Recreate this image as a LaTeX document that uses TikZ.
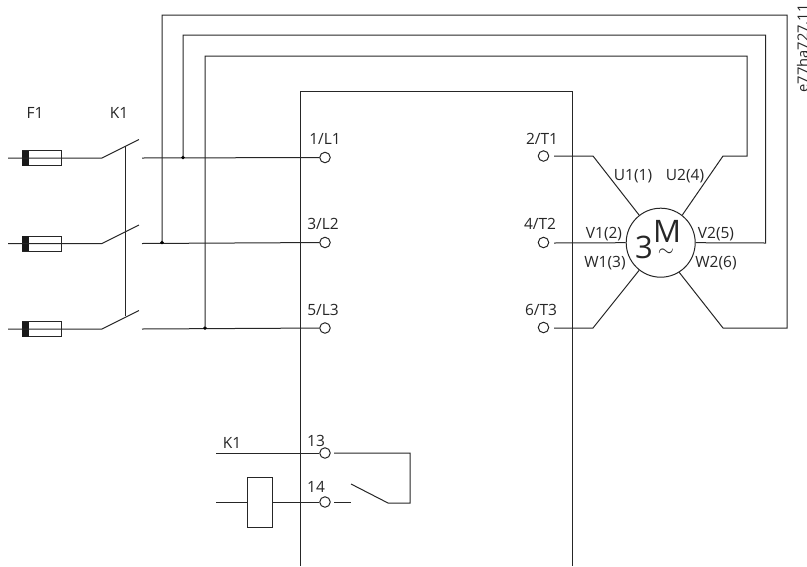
\documentclass[tikz,border=0pt]{standalone}
\usepackage{fontspec}
\setmainfont{Open Sans}
\begin{document}
\begin{tikzpicture}[x=1pt,y=-1pt,line cap=butt,
  wire/.style={draw=black!85,line width=1pt},
  term/.style={circle,draw=black!85,line width=1pt,fill=white,minimum size=10.5pt,inner sep=0pt},
  dot/.style={circle,fill=black,draw=black,line width=0.4pt,minimum size=3pt,inner sep=0pt},
  lab/.style={font=\fontsize{15.5}{17}\selectfont,inner sep=0pt,text=black!85},
  wlab/.style={font=\fontsize{15.5}{17}\selectfont,inner sep=0pt,text=black!85},
  big/.style={font=\fontsize{31}{33}\selectfont,inner sep=0pt,text=black!85},
  fusebody/.style={draw=black!85,line width=1pt,fill=none,minimum width=39pt,minimum height=15pt,inner sep=0pt}]
\useasboundingbox (0,0) rectangle (807,566);
\begin{scope}
\clip (0,0) rectangle (807,566);
\node[rotate=90,font=\fontsize{14.7}{17}\selectfont,inner sep=0pt,text=black!85,anchor=base] (code) at (808,48.5) {e77ha727.11};
\end{scope}
% panel
\coordinate (pa) at (300,566);\coordinate (pb) at (300,91);\coordinate (pc) at (572,91);\coordinate (pd) at (572,566);
\draw[wire] (pa) -- (pb) -- (pc) -- (pd);
% terminals
\foreach \n/\x/\y in {L1/325/157.5,L2/325/242.5,L3/325/328,T1/543.5/156,T2/543.5/242.5,T3/543.5/327.5,A/325/453,B/325/502}
  \node[term] (\n) at (\x,\y) {};
% fuses
\foreach \n/\y in {1/158,2/243.5,3/329}{
  \coordinate (fs\n) at (8,\y);
  \coordinate (fe\n) at (102,\y);
  \node[fusebody] (fuse\n) at (41.5,\y) {};
  \fill[black!90] (22,\y-7.5) rectangle (29,\y+7.5);
  \coordinate (bl\n) at (139,\y-18.5);
  \coordinate (st\n) at (142,\y);
  \draw[wire] (fs\n) -- (fe\n) -- (bl\n);
}
\draw[wire] (st1) -- (L1);
\draw[wire] (st2) -- (L2);
\draw[wire] (st3) -- (L3);
% mechanical link
\coordinate (ka) at (125.5,146);\coordinate (kb) at (125.5,316);
\draw[wire] (ka) -- (kb);
% motor
\node[circle,draw=black!85,line width=1pt,minimum size=69pt,inner sep=0pt] (M) at (660.7,242.7) {};
\node[big] (three) at (644,247) {3};
\node[big] (mm) at (667,231) {M};
\node[inner sep=0pt,font=\fontsize{21}{23}\selectfont,text=black!85] (tl) at (666,252.5) {$\sim$};
% dots
\node[dot] (d1) at (183,157.5) {};
\node[dot] (d2) at (162,242.5) {};
\node[dot] (d3) at (205,328) {};
% star wiring
\coordinate (a1) at (162,15);\coordinate (a2) at (787,15);\coordinate (a3) at (787,328);\coordinate (a4) at (723,328);
\draw[wire] (d2) -- (a1) -- (a2) -- (a3) -- (a4) -- (M.-58);
\coordinate (b1) at (183,35);\coordinate (b2) at (765.5,35);\coordinate (b3) at (765.5,243);
\draw[wire] (d1) -- (b1) -- (b2) -- (b3) -- (M.east);
\coordinate (c1) at (205,56);\coordinate (c2) at (747,56);\coordinate (c3) at (747,156);\coordinate (c4) at (723,156);
\draw[wire] (d3) -- (c1) -- (c2) -- (c3) -- (c4) -- (M.52);
\coordinate (t1) at (593,156);\coordinate (t3) at (593,328);
\coordinate (tb1) at (554,156);\coordinate (tb2) at (554,243);\coordinate (tb3) at (554,328);
\draw[wire] (tb1) -- (t1) -- (M.128);
\draw[wire] (tb2) -- (M.west);
\draw[wire] (tb3) -- (t3) -- (M.-128);
% aux contact
\coordinate (k13) at (216,453);\coordinate (k14) at (216,502);
\draw[wire] (k13) -- (A);
\node[draw=black!85,line width=1pt,fill=white,minimum width=25pt,minimum height=50pt,inner sep=0pt] (coil) at (259.5,502) {};
\draw[wire] (k14) -- (coil);
\draw[wire] (coil) -- (B);
\coordinate (r1) at (334,453);\coordinate (r2) at (410,453);\coordinate (r3) at (410,503);\coordinate (r4) at (388,503);\coordinate (r5) at (351,484);
\draw[wire] (r1) -- (r2) -- (r3) -- (r4) -- (r5);
\coordinate (s1) at (334,502.5);\coordinate (s2) at (351,502.5);
\draw[wire] (s1) -- (s2);
% labels
\node[lab] (lF) at (35,113) {F1};
\node[lab] (lK) at (119,113) {K1};
\node[lab] (l1) at (325,139) {1/L1};
\node[lab] (l2) at (323,224) {3/L2};
\node[lab] (l3) at (323,310) {5/L3};
\node[lab] (r1l) at (542,139) {2/T1};
\node[lab] (r2l) at (540,224) {4/T2};
\node[lab] (r3l) at (541,310) {6/T3};
\node[wlab] (u1) at (633,176) {U1(1)};
\node[wlab] (u2) at (685,176) {U2(4)};
\node[wlab] (v1) at (604,234) {V1(2)};
\node[wlab] (v2) at (716,234) {V2(5)};
\node[wlab] (w1) at (605,263) {W1(3)};
\node[wlab] (w2) at (716,263) {W2(6)};
\node[lab] (lk1) at (232,443) {K1};
\node[lab] (l13) at (316,441) {13};
\node[lab] (l14) at (316,487) {14};
\end{tikzpicture}
\end{document}
